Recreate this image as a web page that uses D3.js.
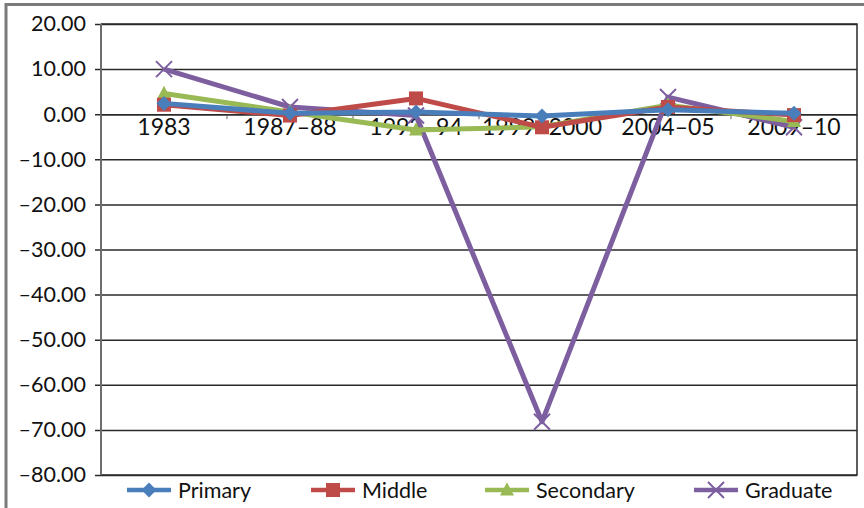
<!DOCTYPE html>
<html>
<head>
<meta charset="utf-8">
<script src="https://cdn.jsdelivr.net/npm/d3@7/dist/d3.min.js"></script>
<style>
  html, body { margin: 0; padding: 0; background: #fff; }
  svg { display: block; }
  text { font-family: Lato, "Open Sans", sans-serif; fill: #111; }
</style>
</head>
<body>
<svg id="chart" width="864" height="508"></svg>
<script>
// Growth by education level, per survey round
const categories = ["1983", "1987\u201388", "1993\u201394", "1999\u20132000", "2004\u201305", "2009\u201310"];
const primary   = [2.4, 0.2, 0.5, -0.4, 1.0, 0.2];
const middle    = [2.1, -0.3, 3.5, -2.9, 1.6, -0.2];
const secondary = [4.6, 0.5, -3.5, -2.8, 2.0, -1.6];
const graduate  = [10.0, 1.6, -0.3, -68.2, 3.8, -2.9];
const yTicks = [20, 10, 0, -10, -20, -30, -40, -50, -60, -70, -80];

const series = [
  { name: "Primary",   values: primary,   color: "#4a7ebb", marker: "diamond" },
  { name: "Middle",    values: middle,    color: "#be4b48", marker: "square" },
  { name: "Secondary", values: secondary, color: "#98b954", marker: "triangle" },
  { name: "Graduate",  values: graduate,  color: "#7d5fa0", marker: "cross" }
];

const svg = d3.select("#chart");
const plot = { left: 101, right: 857, top: 24, bottom: 475 };

// outer frame (top and left edges visible)
svg.append("path")
  .attr("d", "M6,508 V4.5 H864")
  .attr("fill", "none").attr("stroke", "#7a7a7a").attr("stroke-width", 3);

const x = d3.scaleBand().domain(categories).range([plot.left, plot.right]);
const y = d3.scaleLinear().domain([-80, 20]).range([plot.bottom, plot.top]);
const cx = c => x(c) + x.bandwidth() / 2;

const fmt = v => (v < 0 ? "\u2013" : "") + Math.abs(v).toFixed(2);

// gridlines + y axis labels
const yAxis = d3.axisLeft(y).tickValues(yTicks).tickSize(-(plot.right - plot.left)).tickSizeOuter(0).tickFormat(fmt);
const gy = svg.append("g").attr("transform", `translate(${plot.left},0)`).call(yAxis);
gy.select(".domain").remove();
gy.selectAll(".tick line").attr("stroke", "#2a2a2a").attr("stroke-width", 1.5).attr("x1", -6);
gy.selectAll(".tick text").attr("x", -15).attr("font-size", 21.5).attr("fill", "#111")
  .style("font-family", "Lato, 'Open Sans', sans-serif");

// plot area border
svg.append("path")
  .attr("d", `M${plot.left},${plot.top} H${plot.right} V${plot.bottom} H${plot.left}`)
  .attr("fill", "none").attr("stroke", "#2a2a2a").attr("stroke-width", 1.5);
svg.append("line")
  .attr("x1", plot.left).attr("x2", plot.left).attr("y1", plot.top).attr("y2", plot.bottom)
  .attr("stroke", "#6d6d6d").attr("stroke-width", 2);

// category axis on the zero line
const xAxis = d3.axisBottom(x).tickSize(0).tickSizeOuter(0);
const gx = svg.append("g").attr("transform", `translate(0,${y(0)})`).call(xAxis);
gx.select(".domain").attr("stroke", "#2a2a2a").attr("stroke-width", 1.5);
gx.selectAll(".tick text").attr("y", 4).attr("font-size", 23).attr("fill", "#111")
  .style("font-family", "Lato, 'Open Sans', sans-serif");
// small separators between categories
svg.append("g").selectAll("line")
  .data(categories.slice(1))
  .join("line")
  .attr("x1", d => x(d)).attr("x2", d => x(d))
  .attr("y1", y(0) + 1).attr("y2", y(0) + 5)
  .attr("stroke", "#666").attr("stroke-width", 1);

function markerPath(type, s) {
  switch (type) {
    case "diamond": return `M0,${-s} L${s},0 L0,${s} L${-s},0 Z`;
    case "square": return `M${-s},${-s} H${s} V${s} H${-s} Z`;
    case "triangle": return `M0,${-s * 1.1} L${s},${s * 0.8} L${-s},${s * 0.8} Z`;
    case "cross": return `M${-s},${-s} L${s},${s} M${s},${-s} L${-s},${s}`;
  }
}
const markerSize = { diamond: 7.5, square: 7, triangle: 7, cross: 8 };

function drawMarker(g, type, color) {
  const p = g.append("path").attr("d", markerPath(type, markerSize[type]));
  if (type === "cross") p.attr("fill", "none").attr("stroke", color).attr("stroke-width", 2);
  else p.attr("fill", color).attr("stroke", "none");
}

const line = d3.line().x((d, i) => cx(categories[i])).y(d => y(d));

// draw in reverse so Primary ends up on top
[...series].reverse().forEach(s => {
  const g = svg.append("g");
  g.append("path").datum(s.values).attr("d", line)
    .attr("fill", "none").attr("stroke", s.color).attr("stroke-width", 5)
    .attr("stroke-linejoin", "round");
  s.values.forEach((v, i) => {
    const m = g.append("g").attr("transform", `translate(${cx(categories[i])},${y(v)})`);
    drawMarker(m, s.marker, s.color);
  });
});

// legend
const legendX = [127, 311, 485, 694];
const legend = svg.append("g").attr("transform", "translate(0,490)");
series.forEach((s, i) => {
  const g = legend.append("g").attr("transform", `translate(${legendX[i]},0)`);
  g.append("line").attr("x1", 0).attr("x2", 44).attr("y1", 0).attr("y2", 0)
    .attr("stroke", s.color).attr("stroke-width", 4.5);
  const m = g.append("g").attr("transform", "translate(22,0)");
  drawMarker(m, s.marker, s.color);
  g.append("text").attr("x", 51).attr("y", 0).attr("dy", "0.35em")
    .attr("font-size", 21.5).text(s.name);
});
</script>
</body>
</html>
